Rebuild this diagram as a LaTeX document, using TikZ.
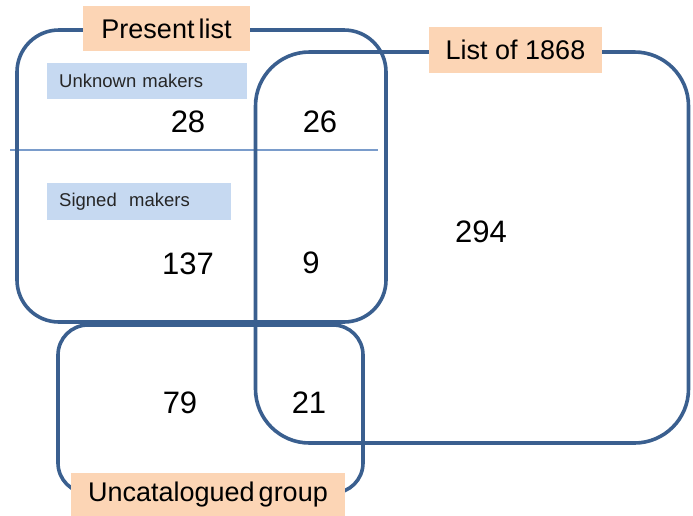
\documentclass[tikz,border=0pt]{standalone}
\usepackage{fontspec}
\setmainfont{Liberation Sans}
\definecolor{setline}{HTML}{3A5F8F}
\definecolor{divider}{HTML}{7A9CCB}
\definecolor{peach}{HTML}{FCD5B5}
\definecolor{paleblue}{HTML}{C6D9F1}
\begin{document}
\begin{tikzpicture}[x=1pt,y=-1pt,
  setbox/.style={draw=setline, line width=3.6pt, rounded corners=#1, inner sep=0pt},
  title/.style={fill=peach, inner sep=0pt, font=\fontsize{27}{30}\selectfont},
  tag/.style={fill=paleblue, inner sep=0pt, font=\fontsize{18.5}{21}\selectfont,
    text=black!85, anchor=north west, text width=#1, align=left},
  count/.style={font=\fontsize{31}{34}\selectfont, inner sep=0pt}]
\useasboundingbox (0,0) rectangle (693,515);

% thin divider across the present list
\coordinate (divL) at (10,150);
\coordinate (divR) at (378,150);
\draw[divider, line width=1.3pt] (divL) -- (divR);

% the three sets
\node[setbox=42, minimum width=369pt, minimum height=292pt] (present) at (201.5,176) {};
\node[setbox=54, minimum width=433pt, minimum height=391pt] (old) at (472,247.5) {};
\node[setbox=30, minimum width=305pt, minimum height=168pt] (uncat) at (210.5,409) {};

% set titles
\node[title, minimum width=167pt, minimum height=45pt] (tPresent) at (166.5,28.5) {Present\hspace{4pt}list};
\node[title, minimum width=173pt, minimum height=46pt] (tOld) at (515.5,50) {List of 1868};
\node[title, minimum width=274pt, minimum height=44pt] (tUncat) at (208,495) {Uncatalogued\hspace{4pt}group};

% subgroup tags
\node[tag=200pt, minimum height=36pt] (tUnknown) at (47,63) {\hspace*{12pt}Unknown makers};
\node[tag=184pt, minimum height=37pt] (tSigned) at (47,183) {\hspace*{12pt}Signed\ \ makers};

% counts
\node[count] (n28) at (188,122) {28};
\node[count] (n26) at (320,122) {26};
\node[count] (n137) at (188,264) {137};
\node[count] (n9) at (311,263) {9};
\node[count] (n294) at (481,232) {294};
\node[count] (n79) at (180,403) {79};
\node[count] (n21) at (309,403) {21};
\end{tikzpicture}
\end{document}
